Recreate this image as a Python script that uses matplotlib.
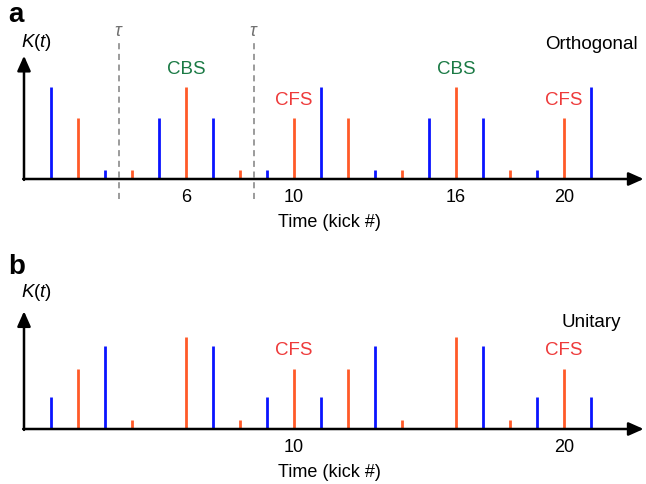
import matplotlib
matplotlib.use('Agg')
import matplotlib.pyplot as plt
import numpy as np

plt.rcParams['font.family'] = ['Liberation Sans', 'DejaVu Sans']
plt.rcParams['mathtext.fontset'] = 'custom'
plt.rcParams['mathtext.rm'] = 'Liberation Sans'
plt.rcParams['mathtext.it'] = 'Liberation Sans:italic'

kicks = np.arange(1, 22)
# stem heights (tall peak = 1)
k_orth = [1.0, 0.66, 0.1, 0.1, 0.66, 1.0, 0.66, 0.1, 0.1, 0.66, 1.0,
          0.66, 0.1, 0.1, 0.66, 1.0, 0.66, 0.1, 0.1, 0.66, 1.0]
k_unit = [0.35, 0.65, 0.9, 0.1, 0.01, 1.0, 0.9, 0.1, 0.35, 0.65, 0.35,
          0.65, 0.9, 0.1, 0.01, 1.0, 0.9, 0.1, 0.35, 0.65, 0.35]
ticks_a = [6, 10, 16, 20]
ticks_b = [10, 20]
tau_pos = [3.5, 8.5]
cbs_pos = [6, 16]
cfs_pos = [10, 20]

blue = '#0a14ff'
orange = '#ff5a28'
green = '#1b7a45'
red = '#ee3a3a'

fig = plt.figure(figsize=(6.46, 4.85), dpi=100)

def panel(top_px, heights, ticks, label, letter, letter_y, show_tau, show_cbs):
    ax = fig.add_axes([10.5 / 646, (485 - top_px - 210) / 485, 634.5 / 646, 210 / 485])
    ax.set_xlim(-0.5, 23)
    ax.set_ylim(-50 / 92, 160 / 92)
    ax.axis('off')
    colors = [blue if k % 2 == 1 else orange for k in kicks]
    ax.vlines(kicks, 0, heights, colors=colors, lw=2)
    # axes arrows
    ax.annotate('', xy=(22.95, 0), xytext=(-0.03, 0),
                arrowprops=dict(arrowstyle='-|>,head_length=0.9,head_width=0.4', color='black', lw=1.8,
                                shrinkA=0, shrinkB=0))
    ax.annotate('', xy=(0, 1.34 if show_tau else 1.28), xytext=(0, -0.01),
                arrowprops=dict(arrowstyle='-|>,head_length=0.9,head_width=0.4', color='black', lw=1.8,
                                shrinkA=0, shrinkB=0))
    for t in ticks:
        ax.text(t, -0.185, str(t), ha='center', va='center', fontsize=13)
    ax.text(11.33, -0.457, 'Time (kick #)', ha='center', va='center', fontsize=13)
    ax.text(0.45, 1.49, r'$K$($t$)', ha='center', va='center', fontsize=13.5)
    ax.text(21.0, 1.47 if show_tau else 1.17, label, ha='center', va='center', fontsize=13.5)
    if show_tau:
        for x in tau_pos:
            ax.plot([x, x], [-0.217, 1.5], ls=(0, (4, 3)), color='#808080', lw=1.1)
            ax.text(x, 1.61, r'$\tau$', ha='center', va='center', fontsize=13, color='#707070')
    if show_cbs:
        for x in cbs_pos:
            ax.text(x, 1.196, 'CBS', ha='center', va='center', fontsize=13.5, color=green)
    for x in cfs_pos:
        ax.text(x, 0.86, 'CFS', ha='center', va='center', fontsize=13.5, color=red)
    fig.text(8 / 646, 1 - letter_y / 485, letter, ha='left', va='center', fontsize=20, fontweight='bold')

panel(20, k_orth, ticks_a, 'Orthogonal', 'a', 15, True, True)
panel(270, k_unit, ticks_b, 'Unitary', 'b', 267, False, False)

fig.savefig('out.png', dpi=100)
